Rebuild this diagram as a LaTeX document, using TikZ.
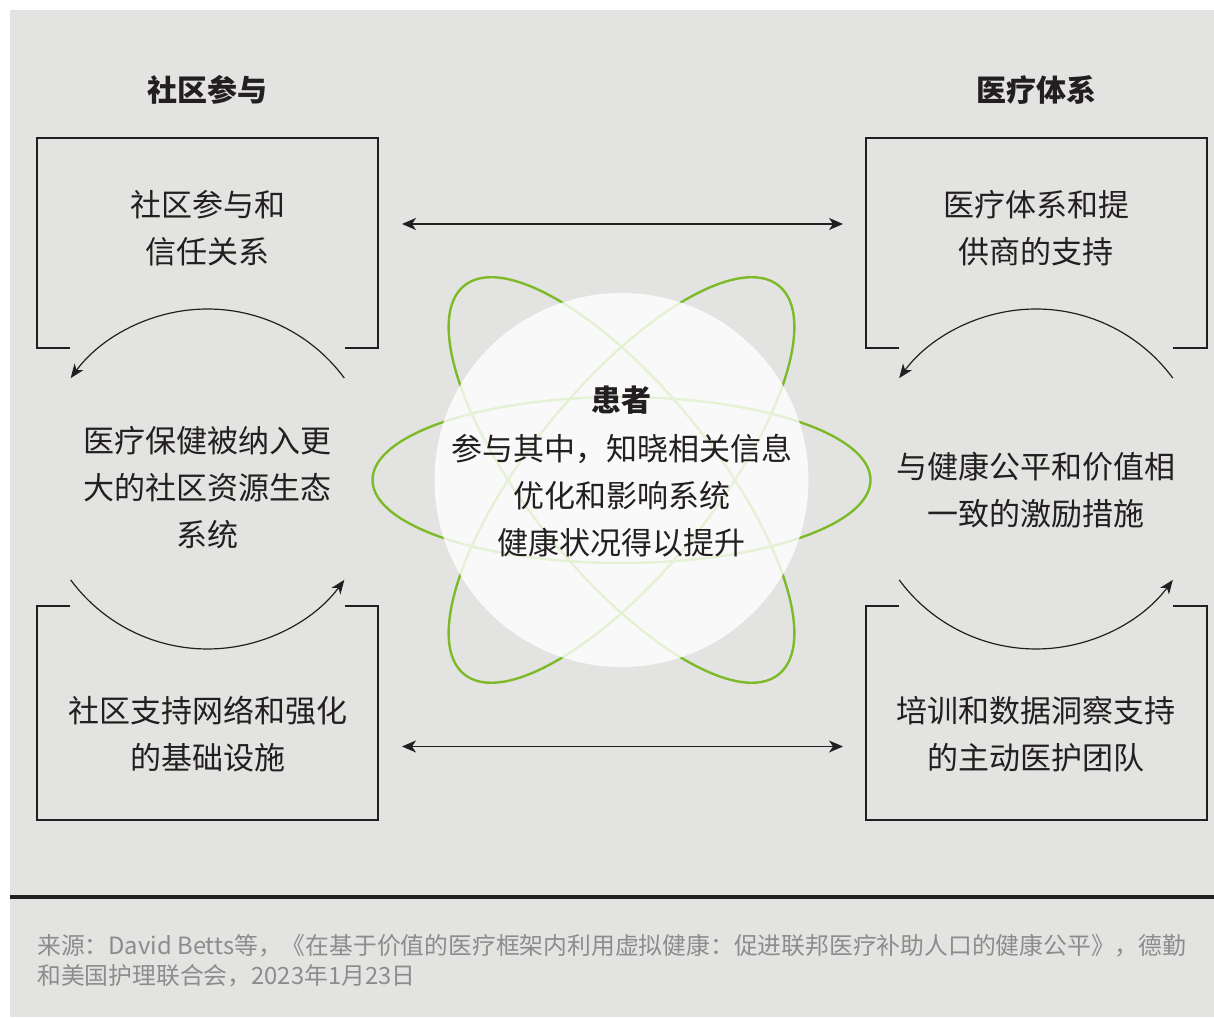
\documentclass[tikz,border=0pt]{standalone}
\usepackage{fontspec}
\setmainfont{Noto Sans CJK SC}
\usetikzlibrary{arrows.meta}
\definecolor{bg}{RGB}{227,228,225}
\definecolor{ink}{HTML}{231F20}
\definecolor{leaf}{RGB}{125,186,40}
\definecolor{srcgray}{RGB}{140,140,140}
\begin{document}
\begin{tikzpicture}[x=1pt,y=1pt,
  frame/.style={draw=ink, line width=1.4pt},
  label/.style={text=ink, font=\fontsize{31}{47}\selectfont, align=center, inner sep=0pt},
  head/.style={text=ink, font=\fontsize{30}{36}\selectfont\bfseries, inner sep=0pt},
  cyc/.style={draw=ink, line width=1.2pt, -{Stealth[length=14pt,width=11pt,inset=4pt]}},
  link/.style={draw=ink, line width=1.6pt, {Stealth[length=14pt,width=12pt,inset=4pt]}-{Stealth[length=14pt,width=12pt,inset=4pt]}},
  orbit/.style={draw=leaf, line width=2.4pt},
]
\useasboundingbox (0,0) rectangle (1214,1017);
\fill[white] (0,0) rectangle (1214,1017);
\fill[bg] (10,0) rectangle (1214,1007);
\fill[ink] (10,118) rectangle (1214,122);

% titles
\node[head] (tleft) at (207.5,927.5) {社区参与};
\node[head] (tright) at (1036,927.5) {医疗体系};

% bracket boxes
\draw[frame] (70,669) -- (37,669) -- (37,879) -- (378,879) -- (378,669) -- (345,669);
\draw[frame] (70,411) -- (37,411) -- (37,197) -- (378,197) -- (378,411) -- (345,411);
\draw[frame] (899,669) -- (866,669) -- (866,879) -- (1207,879) -- (1207,669) -- (1173,669);
\draw[frame] (899,411) -- (866,411) -- (866,197) -- (1207,197) -- (1207,411) -- (1173,411);

% box texts
\node[label] (tl) at (207.5,788.5) {社区参与和\\信任关系};
\node[label] (ml) at (207.5,529.5) {医疗保健被纳入更\\大的社区资源生态\\系统};
\node[label] (bl) at (207.5,282.5) {社区支持网络和强化\\的基础设施};
\node[label] (tr) at (1036,788.5) {医疗体系和提\\供商的支持};
\node[label] (mr) at (1036,526.5) {与健康公平和价值相\\一致的激励措施};
\node[label] (br) at (1036,282.5) {培训和数据洞察支持\\的主动医护团队};

% cycle arcs
\coordinate (lc) at (207.5,538);
\coordinate (rc) at (1036,538);
\draw[cyc] (lc) ++(36.4:170) arc[start angle=36.4, end angle=143.6, radius=170];
\draw[cyc] (lc) ++(216.4:170) arc[start angle=216.4, end angle=323.6, radius=170];
\draw[cyc] (rc) ++(36.4:170) arc[start angle=36.4, end angle=143.6, radius=170];
\draw[cyc] (rc) ++(216.4:170) arc[start angle=216.4, end angle=323.6, radius=170];

% horizontal links
\coordinate (lt) at (402,793);
\coordinate (rt) at (843,793);
\coordinate (lb) at (402,270.5);
\coordinate (rb) at (843,270.5);
\draw[link] (lt) -- (rt);
\draw[link] (lb) -- (rb);

% patient core
\coordinate (core) at (621.5,537);
\draw[orbit] (core) ellipse[x radius=249, y radius=83];
\draw[orbit, rotate around={51:(core)}] (core) ellipse[x radius=250, y radius=92];
\draw[orbit, rotate around={-51:(core)}] (core) ellipse[x radius=250, y radius=92];
\fill[white, opacity=0.8] (core) circle[radius=187];
\node[head] (pt) at (621.5,617) {患者};
\node[label] (pd) at (621.5,521) {参与其中，知晓相关信息\\优化和影响系统\\健康状况得以提升};

% source
\node[anchor=west, text=srcgray, font=\fontsize{23.8}{30}\selectfont, align=left, inner sep=0pt] (src) at (37,56.5)
  {来源：David Betts等，《在基于价值的医疗框架内利用虚拟健康：促进联邦医疗补助人口的健康公平》，德勤\\和美国护理联合会，2023年1月23日};
\end{tikzpicture}
\end{document}
